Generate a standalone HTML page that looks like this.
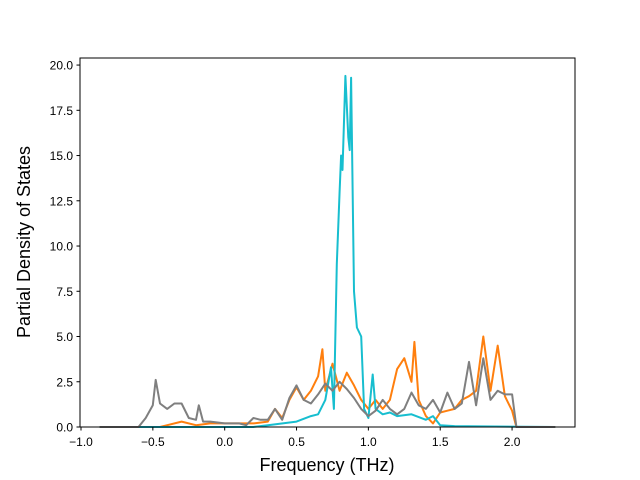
<!DOCTYPE html>
<html><head><meta charset="utf-8"><style>
body{margin:0;background:#fff}
svg{display:block;font-family:"Liberation Sans","DejaVu Sans",sans-serif}
</style></head><body>
<svg id="chart" width="640" height="480" viewBox="0 0 640 480">
<rect width="640" height="480" fill="#fff"/>
<g id="plot"></g>
<rect x="80" y="58" width="495" height="369" fill="none" stroke="#000" stroke-width="1"/>
<g id="axes"></g>
<text x="327" y="471" text-anchor="middle" font-size="18">Frequency (THz)</text>
<text transform="translate(30,242) rotate(-90)" text-anchor="middle" font-size="18">Partial Density of States</text>
</svg>
<script>
const xTicks=[-1.0,-0.5,0.0,0.5,1.0,1.5,2.0];
const xTickLabels=["−1.0","−0.5","0.0","0.5","1.0","1.5","2.0"];
const yTicks=[0,2.5,5,7.5,10,12.5,15,17.5,20];
const yTickLabels=["0.0","2.5","5.0","7.5","10.0","12.5","15.0","17.5","20.0"];

const grayX=[-0.87,-0.6,-0.55,-0.5,-0.48,-0.45,-0.4,-0.35,-0.3,-0.25,-0.2,-0.18,-0.15,-0.1,0,0.1,0.15,0.2,0.25,0.3,0.35,0.4,0.45,0.5,0.55,0.6,0.65,0.7,0.75,0.8,0.85,0.9,0.95,1.0,1.05,1.1,1.15,1.2,1.25,1.3,1.35,1.4,1.45,1.5,1.55,1.6,1.65,1.7,1.75,1.8,1.85,1.9,1.95,2.0,2.03,2.3];
const grayY=[0,0,0.5,1.2,2.6,1.3,1.0,1.3,1.3,0.5,0.4,1.2,0.3,0.3,0.2,0.2,0.1,0.5,0.4,0.4,1.0,0.4,1.6,2.3,1.5,1.3,1.8,2.4,2.0,2.5,2.1,1.6,1.0,0.6,0.9,1.5,1.0,0.7,1.0,1.9,1.2,1.0,1.5,0.8,1.9,1.0,1.3,3.6,1.2,3.8,1.5,2.0,1.8,1.8,0,0];

const orangeX=[-0.87,-0.45,-0.4,-0.3,-0.2,-0.1,0,0.1,0.2,0.3,0.35,0.4,0.45,0.5,0.55,0.6,0.65,0.68,0.7,0.75,0.8,0.85,0.9,0.95,1.0,1.05,1.1,1.15,1.2,1.25,1.3,1.32,1.35,1.4,1.45,1.5,1.55,1.6,1.65,1.7,1.75,1.8,1.85,1.9,1.95,2.0,2.03,2.3];
const orangeY=[0,0,0.1,0.3,0.1,0.2,0.2,0.2,0.2,0.3,1.0,0.5,1.5,2.2,1.5,2.0,2.8,4.3,2.0,3.5,2.0,3.0,2.3,1.5,1.0,1.5,1.0,1.5,3.2,3.8,2.5,4.7,1.5,0.6,0.2,0.8,0.9,1.0,1.5,1.7,2.0,5.0,2.0,4.5,1.7,0.9,0,0];

const cyanX=[-0.87,0.2,0.3,0.5,0.6,0.65,0.7,0.74,0.76,0.78,0.8,0.81,0.82,0.84,0.86,0.87,0.88,0.9,0.92,0.95,0.97,1.0,1.03,1.05,1.1,1.15,1.2,1.3,1.4,1.45,1.5,1.6,2.3];
const cyanY=[0,0,0.1,0.3,0.6,0.7,1.5,3.3,1.0,9,13,15,14.2,19.4,16,15.3,19.3,7.5,5.5,5.0,1.0,0.5,2.9,1.0,0.7,0.8,0.6,0.7,0.4,0.6,0.1,0.05,0];

const X0=80,X1=575,Y0=427,Y1=58,xmin=-1.007,xmax=2.438,ymin=0,ymax=20.39;
const sx=v=>X0+(v-xmin)/(xmax-xmin)*(X1-X0);
const sy=v=>Y0-(v-ymin)/(ymax-ymin)*(Y0-Y1);
const NS="http://www.w3.org/2000/svg";
const plot=document.getElementById('plot'),axes=document.getElementById('axes');
function line(xs,ys,color,name){
  const p=document.createElementNS(NS,'polyline');
  p.setAttribute('points',xs.map((x,i)=>sx(x).toFixed(1)+','+sy(ys[i]).toFixed(1)).join(' '));
  p.setAttribute('fill','none');p.setAttribute('stroke',color);p.setAttribute('stroke-width','2');p.setAttribute('stroke-linejoin','round');
  
  
  plot.appendChild(p);
}
line(orangeX,orangeY,'#ff7f0e','orange-series');
line(cyanX,cyanY,'#17becf','cyan-series');
line(grayX,grayY,'#7f7f7f','gray-series');
xTicks.forEach((t,i)=>{
  const x=sx(t);
  const l=document.createElementNS(NS,'line');
  l.setAttribute('x1',x);l.setAttribute('x2',x);l.setAttribute('y1',427);l.setAttribute('y2',430.5);l.setAttribute('stroke','#000');
  
  
  axes.appendChild(l);
  const tx=document.createElementNS(NS,'text');
  tx.setAttribute('x',x);tx.setAttribute('y',446);tx.setAttribute('text-anchor','middle');tx.setAttribute('font-size','12');
  tx.textContent=xTickLabels[i];
  
  
  axes.appendChild(tx);
});
yTicks.forEach((t,i)=>{
  const y=sy(t);
  const l=document.createElementNS(NS,'line');
  l.setAttribute('x1',76.5);l.setAttribute('x2',80);l.setAttribute('y1',y);l.setAttribute('y2',y);l.setAttribute('stroke','#000');
  
  
  axes.appendChild(l);
  const tx=document.createElementNS(NS,'text');
  tx.setAttribute('x',73);tx.setAttribute('y',y+4.5);tx.setAttribute('text-anchor','end');tx.setAttribute('font-size','12');
  tx.textContent=yTickLabels[i];
  
  
  axes.appendChild(tx);
});
</script>
</body></html>
